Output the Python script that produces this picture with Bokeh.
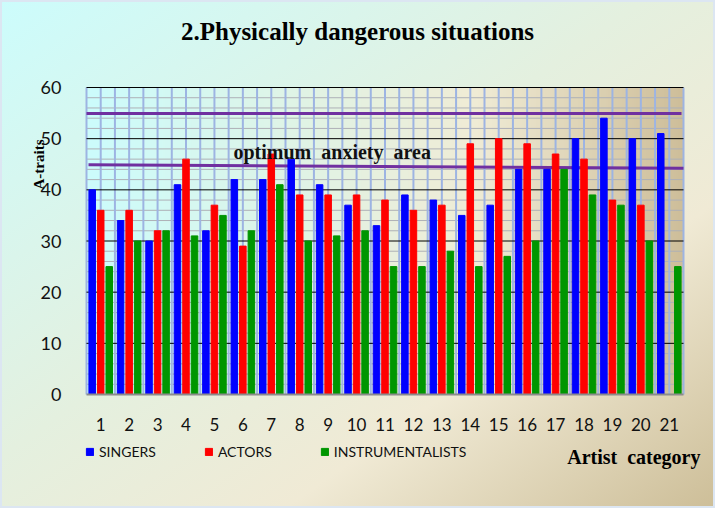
import numpy as np
from bokeh.plotting import figure
from bokeh.models import (Range1d, SingleIntervalTicker, FixedTicker, Label, Legend,
                          LegendItem, ColumnDataSource)
from bokeh.transform import dodge
from bokeh.embed import file_html
from bokeh.resources import INLINE

# ---------------- data ----------------
categories = list(range(1, 22))
singers = [40, 34, 30, 41, 32, 42, 42, 46, 41, 37, 33, 39, 38, 35, 37, 44, 44, 50, 54, 50, 51]
actors = [36, 36, 32, 46, 37, 29, 47, 39, 39, 39, 38, 36, 37, 49, 50, 49, 47, 46, 38, 37, 0]
instrumentalists = [25, 30, 32, 31, 35, 32, 41, 30, 31, 32, 25, 25, 28, 25, 27, 30, 44, 39, 37, 30, 25]
series_names = ["SINGERS", "ACTORS", "INSTRUMENTALISTS"]
# optimum anxiety area bounds (upper line, lower line: start / end values)
upper_bound = [54.9, 54.9]
lower_bound = [44.9, 44.2]

title_text = "2.Physically dangerous situations"
band_text = "optimum\u2002anxiety\u2002area"
y_title = "A-traits"
x_title = "Artist\u2002category"

# ---------------- layout (pixels) ----------------
W, H = 715, 508
FL, FR, FT, FB = 86, 683, 87, 394          # plot area edges in pixels
X0, X1 = 0.5, 21.5                          # category axis extent
Y0, Y1 = 0, 60                              # value axis extent
kx = (FR - FL) / (X1 - X0)                  # px per category unit
ky = (FB - FT) / (Y1 - Y0)                  # px per value unit


def dx(px):
    return X0 + (px - FL) / kx


def dy(py):
    return Y0 + (FB - py) / ky


source = ColumnDataSource(dict(cat=categories, s=singers, a=actors, i=instrumentalists))

p = figure(width=W, height=H, output_backend="svg", toolbar_location=None,
           x_range=Range1d(dx(0), dx(W)), y_range=Range1d(dy(H), dy(0)),
           min_border=0, min_border_left=0, min_border_right=0,
           min_border_top=0, min_border_bottom=0)
p.border_fill_alpha = 0
p.background_fill_alpha = 0
p.outline_line_color = None
p.grid.visible = False
p.styles = {
    "background-image": "linear-gradient(to bottom right, #ccfcfc 0%, #e4f0df 45%, #f0ead5 70%, #cdbe98 100%)",
    "box-shadow": "inset 0 0 0 2px #dce6f2",
}

# plot area gradient (horizontal)
nx = 256
u = np.linspace(0, 1, nx)
stops_t = [0.0, 0.35, 0.65, 1.0]
stops_c = np.array([[204, 252, 252], [224, 244, 230], [240, 236, 214], [206, 190, 154]], dtype=float)
rgb = np.stack([np.interp(u, stops_t, stops_c[:, k]) for k in range(3)], axis=1).astype(np.uint32)
row = (255 << 24) | (rgb[:, 2] << 16) | (rgb[:, 1] << 8) | rgb[:, 0]
img = np.tile(row, (2, 1)).astype(np.uint32)
p.image_rgba(image=[img], x=X0, y=Y0, dw=X1 - X0, dh=Y1 - Y0, level="image")

# grid lines limited to the plot area
minor_y = [v for v in range(Y0 + 2, Y1, 2) if v % 10 != 0]
major_y = list(range(Y0 + 10, Y1 + 1, 10))
grid_x = list(np.arange(X0, X1 + 1e-9, 0.5))
p.segment(x0=X0, x1=X1, y0=minor_y, y1=minor_y, line_color="#aeb0b6", line_width=1, level="underlay")
p.segment(x0=grid_x, x1=grid_x, y0=Y0, y1=Y1, line_color="#9db4e2", line_width=2, level="underlay")
p.segment(x0=X0, x1=X1, y0=major_y, y1=major_y, line_color="black", line_width=1, level="underlay")

# optimum band lines
p.segment(x0=[X0, X0 + 0.07], x1=[X1 - 0.07, X1], y0=[upper_bound[0], lower_bound[0]],
          y1=[upper_bound[1], lower_bound[1]], line_color="#7030a0", line_width=3, level="underlay")

# bars
w = 0.23
rs = p.vbar(x=dodge("cat", -0.3, range=p.x_range), top="s", width=w, source=source, color="#0000ff")
ra = p.vbar(x=dodge("cat", 0.0, range=p.x_range), top="a", width=w, source=source, color="#ff0000")
ri = p.vbar(x=dodge("cat", 0.3, range=p.x_range), top="i", width=w, source=source, color="#009600")

# axes drawn at the plot area's edges
p.xaxis.fixed_location = Y0
p.xaxis.bounds = (X0, X1)
p.xaxis.ticker = FixedTicker(ticks=categories)
p.xaxis.major_tick_line_color = None
p.xaxis.minor_tick_line_color = None
p.xaxis.axis_line_color = "#8c8c8c"
p.xaxis.axis_line_width = 2
p.xaxis.major_label_text_font = "Lato"
p.xaxis.major_label_text_font_size = "17px"
p.xaxis.major_label_text_color = "#111111"
p.xaxis.major_label_standoff = 17

p.yaxis.fixed_location = X0
p.yaxis.bounds = (Y0, Y1)
p.yaxis.ticker = SingleIntervalTicker(interval=10)
p.yaxis.major_tick_line_color = None
p.yaxis.minor_tick_line_color = None
p.yaxis.axis_line_color = None
p.yaxis.major_label_text_font = "Lato"
p.yaxis.major_label_text_font_size = "18px"
p.yaxis.major_label_text_color = "#111111"
p.yaxis.major_label_standoff = 19

# texts
p.add_layout(Label(x=dx(357), y=dy(31), text=title_text,
                   text_font="Liberation Serif", text_font_style="bold", text_font_size="25px",
                   text_align="center", text_baseline="middle", text_color="black"))
p.add_layout(Label(x=dx(233), y=dy(151), text=band_text,
                   text_font="Liberation Serif", text_font_style="bold", text_font_size="20px",
                   text_align="left", text_baseline="middle", text_color="#111111"))
p.add_layout(Label(x=dx(700), y=dy(456), text=x_title,
                   text_font="Liberation Serif", text_font_style="bold", text_font_size="20px",
                   text_align="right", text_baseline="middle", text_color="black"))
p.add_layout(Label(x=dx(38), y=dy(164), text=y_title, angle=np.pi / 2,
                   text_font="Liberation Serif", text_font_style="bold", text_font_size="15px",
                   text_align="center", text_baseline="middle", text_color="black"))

legend = Legend(items=[LegendItem(label=series_names[0], renderers=[rs]),
                       LegendItem(label=series_names[1], renderers=[ra]),
                       LegendItem(label=series_names[2], renderers=[ri])],
                orientation="horizontal", location=(85, H - 460), spacing=48,
                glyph_width=9, glyph_height=9, label_standoff=5, label_height=9,
                padding=0, margin=0, border_line_alpha=0, background_fill_alpha=0,
                label_text_font="Lato", label_text_font_size="14px", label_text_color="#111111")
p.add_layout(legend, "center")

open("out.html", "w").write(file_html(p, INLINE))
